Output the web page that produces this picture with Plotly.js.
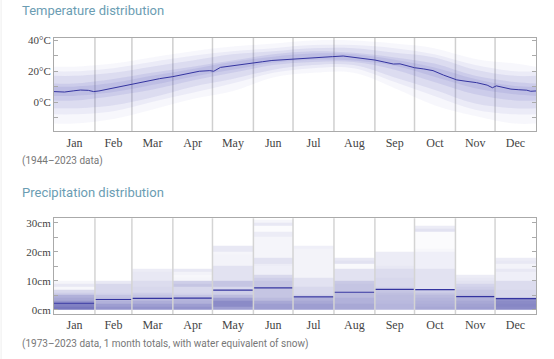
<!DOCTYPE html>
<html><head><meta charset="utf-8">
<script src="https://cdn.plot.ly/plotly-3.0.1.min.js"></script>
<style>html,body{margin:0;padding:0;background:#fff}#chart{width:554px;height:359px}</style>
</head><body><div id="chart"></div>
<script>
// ---- data ----
const monthNames = ["Jan","Feb","Mar","Apr","May","Jun","Jul","Aug","Sep","Oct","Nov","Dec"];
const monthDays = [31,28,31,30,31,30,31,31,30,31,30,31];

// mean daily temperature (°C), by day of year
const tempDay  = [0,8,15,20,26,30,34,40,46,52,59,66,73,80,90,100,110,118,121,126,136,145,151,158,165,175,182,194,204,211,219,229,236,243,250,257,262,267,273,280,287,295,302,305,312,320,328,332,335,341,346,352,358,361,365];
const tempMean = [6.8,6.5,7.3,7.8,7.6,6.8,7.2,8.3,9.3,10.2,11.8,12.6,14,15.2,16.5,18.3,20,20.4,20.0,22.5,23.6,24.3,25.1,26.2,27,27.6,27.9,28.9,29.3,29.5,29.9,28.9,28.2,27.3,26,24.7,24.8,23.5,22.3,21.5,20.4,17.5,15.5,14.4,13.5,12.6,11,9.3,10.5,9.6,8.4,8,7.7,7.0,7.2];

// spread of daily temperatures (°C), estimated from the shaded band, outermost to innermost
const bandDay = [0,15,45,74,105,135,166,196,227,258,288,319,349,365];
const extremeLo = [-14,-14,-11,-5,2,7,16,19,19,9,-2,-9,-14,-14];
const extremeHi = [23,23,25,29,33,36,38,40,40,38,35,28,25,23];
const wideLo  = [-8,-8,-6,0,6,12,19,22,22,13,4,-5,-8,-8];
const wideHi  = [20,20,22,26,30,33,35,37,37,35,31,24,20,20];
const midLo   = [-4,-4,-2,3,10,15,21,24,24,16,8,-1,-4,-4];
const midHi   = [17,17,19,23,27,31,33,35,35,32,29,21,17,17];
const innerLo = [1,1,4,8,14,19,24,26,26,21,13,5,1,1];
const innerHi = [12,12,15,19,23,27,31,33,32,29,25,17,13,12];
const coreLo  = [4,4,6.5,11,16.5,21,25.5,27.5,27,23.5,16.5,9,5,4];
const coreHi  = [10,10,12.5,17,21.5,26,29.5,31.5,31,27.5,22.5,15,10.5,10];

// median monthly precipitation (cm)
const precipMedian = [2.2,3.5,3.9,4.0,6.7,7.5,4.4,6.0,7.0,6.9,4.5,3.8];

// relative density of monthly totals, 1 cm bins from 0 cm upward
const densJan = [0.7,0.65,0.55,0.45,0.4,0.25,0.2,0.04,0.12,0.05];
const densFeb = [0.55,0.5,0.4,0.35,0.3,0.22,0.2,0.2,0.2,0.12];
const densMar = [0.55,0.5,0.42,0.35,0.3,0.25,0.2,0.2,0.18,0.18,0.12,0.12,0.12,0.1];
const densApr = [0.55,0.5,0.4,0.38,0.3,0.22,0.2,0.2,0.3,0.25,0.05,0.04,0.06,0.12];
const densMay = [0.5,0.6,0.6,0.5,0.35,0.25,0.25,0.2,0.3,0.3,0.15,0.15,0.15,0.15,0.15,0.06,0.06,0.06,0.06,0.05,0.12,0.12];
const densJun = [0.5,0.5,0.45,0.35,0.3,0.3,0.3,0.3,0.3,0.3,0.25,0.2,0.08,0.08,0.08,0.1,0.15,0.15,0.05,0.05,0.05,0.05,0.05,0.05,0.05,0.1,0.1,0.02,0.02,0.12,0.05];
const densJul = [0.5,0.5,0.45,0.4,0.25,0.2,0.2,0.2,0.15,0.15,0.15,0.06,0.06,0.06,0.06,0.06,0.06,0.06,0.06,0.06,0.06,0.08];
const densAug = [0.45,0.45,0.4,0.4,0.35,0.35,0.3,0.3,0.3,0.28,0.15,0.15,0.15,0.15,0.03,0.03,0.15,0.12];
const densSep = [0.38,0.38,0.36,0.35,0.35,0.33,0.3,0.22,0.2,0.2,0.2,0.18,0.18,0.18,0.12,0.1,0.1,0.1,0.1,0.1];
const densOct = [0.45,0.42,0.4,0.38,0.35,0.3,0.25,0.15,0.15,0.15,0.15,0.15,0.15,0.15,0.08,0.08,0.08,0.08,0.08,0.08,0.04,0.02,0.02,0.02,0.02,0.02,0.02,0.15,0.1];
const densNov = [0.5,0.48,0.45,0.4,0.35,0.3,0.3,0.25,0.22,0.15,0.12,0.1];
const densDec = [0.6,0.62,0.6,0.55,0.2,0.2,0.2,0.18,0.18,0.18,0.08,0.08,0.08,0.12,0.06,0.06,0.12,0.1];

// ---- build ----
const bounds = [0];
monthDays.forEach(d => bounds.push(bounds[bounds.length-1] + d));
const mids = monthDays.map((d,i) => bounds[i] + d/2);
const densAll = [densJan,densFeb,densMar,densApr,densMay,densJun,densJul,densAug,densSep,densOct,densNov,densDec];
const nBins = 31;
const yEdges = Array.from({length:nBins+1}, (_,i)=>i);
const z = [];
for (let b=0;b<nBins;b++){ z.push(densAll.map(a => (b < a.length ? a[b] : 0))); }

const traces = [];
function bandPair(lo, hi, alpha){
  traces.push({x:bandDay,y:lo,type:'scatter',mode:'lines',line:{width:0,shape:'spline'},hoverinfo:'skip',showlegend:false,xaxis:'x',yaxis:'y'});
  traces.push({x:bandDay,y:hi,type:'scatter',mode:'lines',fill:'tonexty',fillcolor:'rgba(100,100,195,'+alpha+')',line:{width:0,shape:'spline'},hoverinfo:'skip',showlegend:false,xaxis:'x',yaxis:'y'});
}
bandPair(extremeLo, extremeHi, 0.05);
bandPair(wideLo, wideHi, 0.08);
bandPair(midLo, midHi, 0.11);
bandPair(innerLo, innerHi, 0.13);
bandPair(coreLo, coreHi, 0.13);
traces.push({x:tempDay,y:tempMean,type:'scatter',mode:'lines',line:{color:'#3434a0',width:1},hoverinfo:'skip',showlegend:false,xaxis:'x',yaxis:'y'});

traces.push({type:'heatmap',x:bounds,y:yEdges,z:z,zmin:0,zmax:0.85,
  colorscale:[[0,'#ffffff'],[1,'#5a5ab0']],showscale:false,hoverinfo:'skip',xaxis:'x2',yaxis:'y2'});
const mx=[], my=[];
precipMedian.forEach((v,i)=>{ mx.push(bounds[i],bounds[i+1],null); my.push(v,v,null); });
traces.push({x:mx,y:my,type:'scatter',mode:'lines',line:{color:'#3434a0',width:1.2},hoverinfo:'skip',showlegend:false,xaxis:'x2',yaxis:'y2'});

const shapes = [];
for (let i=1;i<12;i++){
  shapes.push({type:'line',xref:'x',yref:'y domain',x0:bounds[i],x1:bounds[i],y0:0,y1:1,line:{color:'#cfcfcf',width:1.5},layer:'below'});
  shapes.push({type:'line',xref:'x2',yref:'y2 domain',x0:bounds[i],x1:bounds[i],y0:0,y1:1,line:{color:'#d4d4d4',width:1.5},layer:'above'});
}
shapes.push({type:'line',xref:'paper',yref:'paper',x0:0.002,x1:0.002,y0:0,y1:1,line:{color:'#eeeeee',width:1}});

const serif = {family:'Liberation Serif, serif',size:12,color:'#444'};
const axisCommon = {showline:true,mirror:'ticks',linecolor:'#aaa',linewidth:1,showgrid:false,zeroline:false,fixedrange:true};
const W=554,H=359;
const xd=[54/W,536/W];
const layout = {
  width:W,height:H,margin:{l:0,r:0,t:0,b:0},paper_bgcolor:'#fff',plot_bgcolor:'#fff',showlegend:false,
  xaxis:Object.assign({},axisCommon,{domain:xd,range:[0,365],anchor:'y',tickmode:'array',tickvals:mids,ticktext:monthNames,ticks:'',tickfont:serif}),
  yaxis:Object.assign({},axisCommon,{domain:[1-131.3/H,1-38/H],range:[-19,41.6],anchor:'x',tickmode:'array',
     tickvals:[-10,0,10,20,30,40],ticktext:['','0°C','','20°C','','40°C'],ticks:'inside',ticklen:4,tickcolor:'#aaa',
     tickfont:{family:'Liberation Serif, serif',size:11,color:'#444'}}),
  xaxis2:Object.assign({},axisCommon,{domain:xd,range:[0,365],anchor:'y2',tickmode:'array',tickvals:mids,ticktext:monthNames,ticks:'',tickfont:serif}),
  yaxis2:Object.assign({},axisCommon,{domain:[1-314/H,1-218.3/H],range:[-1.5,31.5],anchor:'x2',tickmode:'array',
     tickvals:[0,5,10,15,20,25,30],ticktext:['0cm','','10cm','','20cm','','30cm'],ticks:'inside',ticklen:4,tickcolor:'#aaa',
     tickfont:{family:'Liberation Serif, serif',size:11,color:'#444'}}),
  shapes:shapes,
  annotations:[
    {text:'Temperature distribution',xref:'paper',yref:'paper',x:20/W,y:1-11/H,xanchor:'left',yanchor:'middle',showarrow:false,font:{family:'Roboto, sans-serif',size:13,color:'#6b9db3'}},
    {text:'(1944–2023 data)',xref:'paper',yref:'paper',x:20/W,y:1-161/H,xanchor:'left',yanchor:'middle',showarrow:false,font:{family:'Roboto, sans-serif',size:10,color:'#777'}},
    {text:'Precipitation distribution',xref:'paper',yref:'paper',x:20/W,y:1-192/H,xanchor:'left',yanchor:'middle',showarrow:false,font:{family:'Roboto, sans-serif',size:13,color:'#6b9db3'}},
    {text:'(1973–2023 data, 1 month totals, with water equivalent of snow)',xref:'paper',yref:'paper',x:20/W,y:1-344/H,xanchor:'left',yanchor:'middle',showarrow:false,font:{family:'Roboto, sans-serif',size:10,color:'#777'}}
  ]
};
Plotly.newPlot('chart',traces,layout,{displayModeBar:false,staticPlot:true});
</script></body></html>
